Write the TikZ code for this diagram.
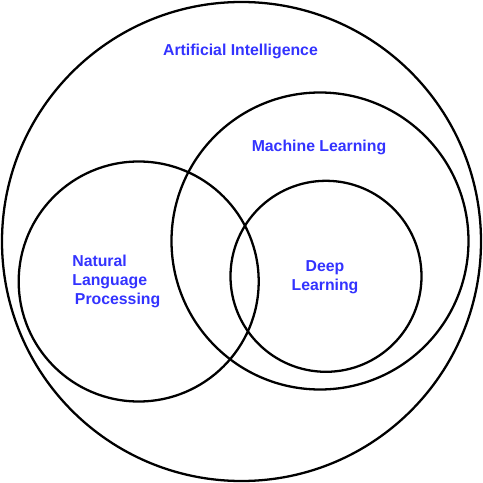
\documentclass[tikz,border=0pt]{standalone}
\usepackage{xcolor}
\usepackage{fontspec}
\setsansfont{Liberation Sans}
\usepackage{tikz}
\definecolor{setblue}{RGB}{51,51,255}
\tikzset{areaset/.style={line width=1.3pt, black}}
\tikzset{areaname/.style={text=setblue, font=\sffamily\bfseries\fontsize{9}{10.8}\selectfont, inner sep=0pt}}

\begin{document}
\begin{tikzpicture}
      \useasboundingbox (0,0) rectangle (9.66,9.66);
      \draw[areaset] (4.83,4.83) circle (4.79);
      \draw[areaset] (6.40,4.84) circle (2.97);
      \draw[areaset] (2.774,4.03) circle (2.40);
      \draw[areaset] (6.52,4.134) circle (1.91);
      \node[areaname] (ai) at (4.81,8.64) {Artificial Intelligence};
      \node[areaname] (ml) at (6.38,6.72) {Machine Learning};
      \node[areaname, align=center] (dl) at (6.50,4.12) {Deep\\Learning};
      \node[areaname, align=left, anchor=west] (nlp) at (1.44,4.03) {Natural\\Language\\\hspace{1.5pt}Processing};
    \end{tikzpicture}
\end{document}
